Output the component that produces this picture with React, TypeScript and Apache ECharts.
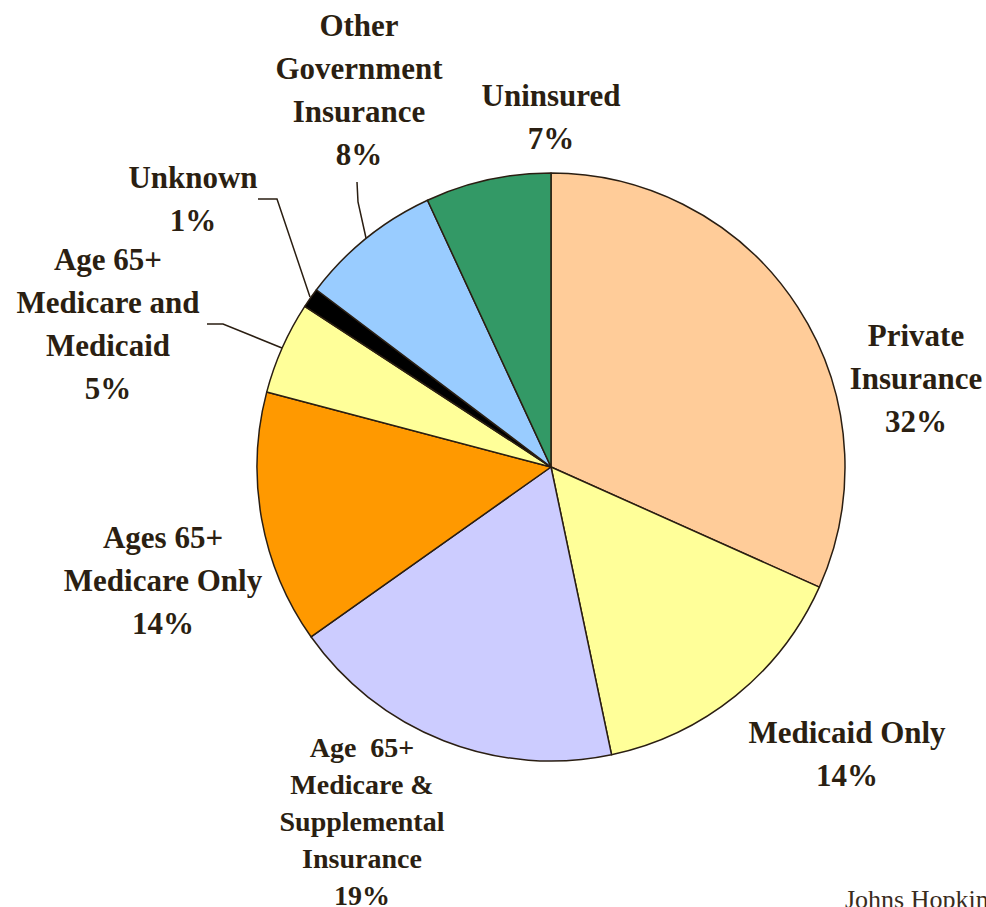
import React, { useEffect, useRef } from "react";
import * as echarts from "echarts";

// Slice names (in clockwise order from 12 o'clock)
const categories = [
  "Private\nInsurance",
  "Medicaid Only",
  "Age  65+\nMedicare &\nSupplemental\nInsurance",
  "Ages 65+\nMedicare Only",
  "Age 65+\nMedicare and\nMedicaid",
  "Unknown",
  "Other\nGovernment\nInsurance",
  "Uninsured",
];
// Slice sizes (%)
const sliceValues = [31.7, 15.0, 18.5, 13.9, 5.1, 1.1, 7.8, 6.9];
// Percentages as printed on the labels
const labelPercents = [32, 14, 19, 14, 5, 1, 8, 7];
const sliceColors = [
  "#FFCC99",
  "#FFFF99",
  "#CCCCFF",
  "#FF9900",
  "#FFFF99",
  "#000000",
  "#99CCFF",
  "#339966",
];

const TEXT = "#2b1f12";
const LINE = "#2a1e12";

// label centres (layout)
const labelPos: Array<[number, number]> = [
  [916, 378],
  [847, 754],
  [362, 821],
  [163, 580],
  [108, 324],
  [193, 199],
  [359, 90],
  [551, 117],
];
const leaderLines: Record<number, number[][]> = {
  4: [[207, 324], [223, 324], [282, 348]],
  5: [[258, 199], [277, 199], [310, 297]],
  6: [[357, 182], [358, 202], [366, 238]],
};

export default function App() {
  const ref = useRef<HTMLDivElement>(null);
  useEffect(() => {
    if (!ref.current) return;
    const chart = echarts.init(ref.current, null, { renderer: "svg" });
    const data = categories.map((name, i) => {
      const item: any = {
        name,
        value: sliceValues[i],
        itemStyle: { color: sliceColors[i] },
        label: {},
        labelLine: { show: !!leaderLines[i] },
      };
      if (i === 2) {
        item.label = { fontSize: 28, lineHeight: 37 };
      }
      return item;
    });
    chart.setOption({
      animation: false,
      backgroundColor: "#ffffff",
      graphic: [
        {
          type: "text",
          left: 845,
          top: 886,
          style: {
            text: "Johns Hopkins",
            font: "26px 'Liberation Serif'",
            fill: "#3a2c1d",
          },
        },
      ],
      series: [
        {
          type: "pie",
          center: [551, 467],
          radius: 294,
          startAngle: 90,
          clockwise: true,
          avoidLabelOverlap: false,
          itemStyle: { borderColor: LINE, borderWidth: 1.5 },
          emphasis: { disabled: true },
          label: {
            show: true,
            position: "outside",
            formatter: (p: any) => `${p.name}\n${labelPercents[p.dataIndex]}%`,
            fontFamily: "'Liberation Serif', 'Times New Roman', serif",
            fontWeight: "bold",
            fontSize: 31,
            lineHeight: 43,
            color: TEXT,
            align: "center",
          },
          labelLine: {
            show: false,
            smooth: false,
            lineStyle: { color: LINE, width: 1.5 },
          },
          labelLayout: (params: any) => {
            const i = params.dataIndex;
            const [x, y] = labelPos[i];
            const out: any = { x, y, align: "center", verticalAlign: "middle" };
            if (leaderLines[i]) out.labelLinePoints = leaderLines[i];
            return out;
          },
          data,
        },
      ],
    });
    return () => chart.dispose();
  }, []);
  return (
    <div
      ref={ref}
      style={{ position: "fixed", left: 0, top: 0, width: 986, height: 907 }}
    />
  );
}
